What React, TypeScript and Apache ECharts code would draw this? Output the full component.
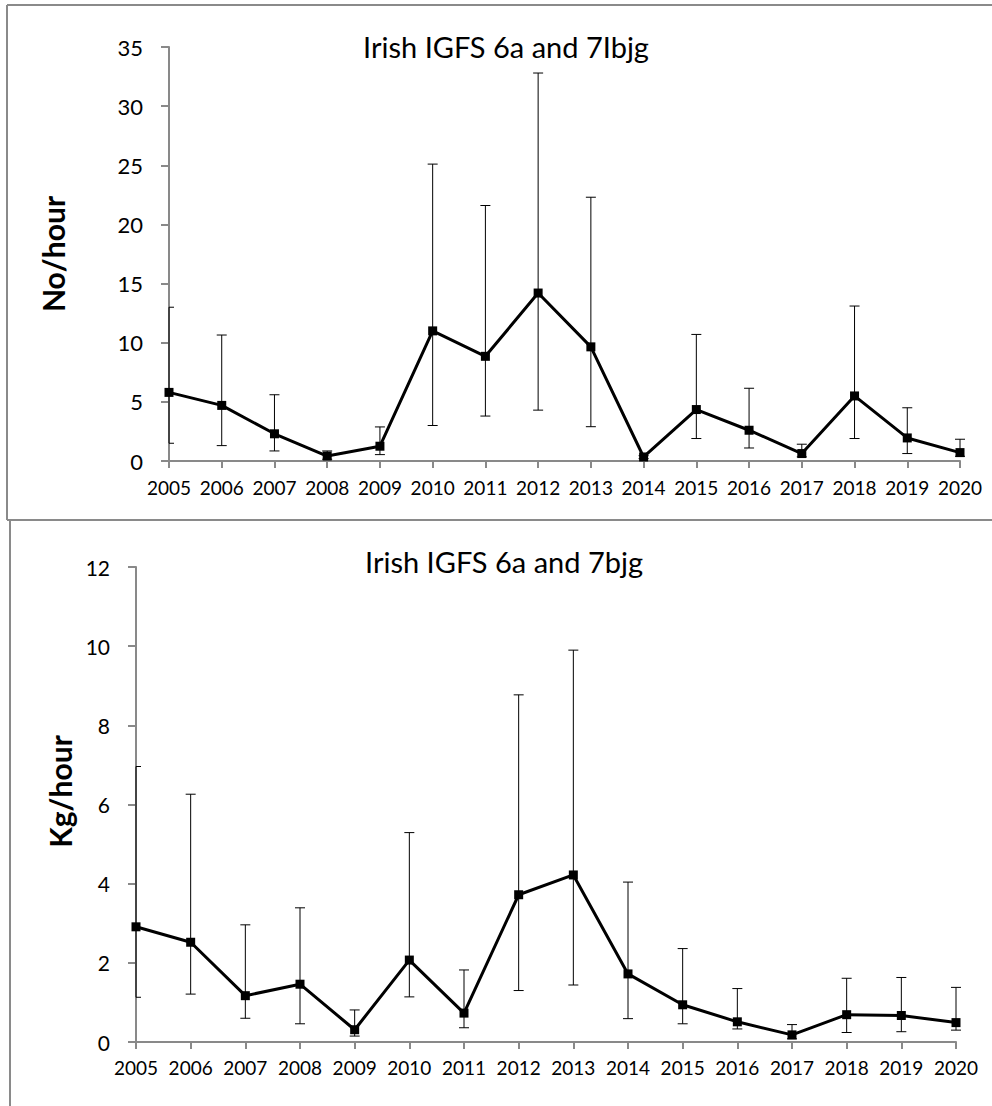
import React, { useEffect, useRef } from "react";
import * as echarts from "echarts";

const years = ["2005", "2006", "2007", "2008", "2009", "2010", "2011", "2012", "2013", "2014", "2015", "2016", "2017", "2018", "2019", "2020"];

const topTitle = "Irish IGFS 6a and 7Ibjg";
const topAxisName = "No/hour";
const topMean = [5.8, 4.7, 2.3, 0.42, 1.25, 11.0, 8.85, 14.2, 9.65, 0.34, 4.35, 2.6, 0.63, 5.5, 1.95, 0.71];
const topLow = [1.5, 1.3, 0.85, 0.15, 0.54, 3.0, 3.8, 4.3, 2.9, 0.2, 1.9, 1.1, 0.35, 1.9, 0.63, 0.4];
const topHigh = [13.0, 10.65, 5.6, 0.85, 2.88, 25.1, 21.6, 32.8, 22.3, 0.45, 10.7, 6.15, 1.42, 13.1, 4.5, 1.84];
const topTicks = { min: 0, max: 35, interval: 5 };

const botTitle = "Irish IGFS 6a and 7bjg";
const botAxisName = "Kg/hour";
const botMean = [2.91, 2.52, 1.17, 1.46, 0.31, 2.07, 0.73, 3.72, 4.22, 1.72, 0.94, 0.51, 0.18, 0.69, 0.67, 0.49];
const botLow = [1.13, 1.21, 0.6, 0.46, 0.15, 1.14, 0.36, 1.3, 1.44, 0.59, 0.46, 0.33, 0.08, 0.24, 0.26, 0.3];
const botHigh = [6.96, 6.26, 2.96, 3.39, 0.81, 5.29, 1.82, 8.77, 9.9, 4.04, 2.36, 1.35, 0.44, 1.61, 1.63, 1.38];
const botTicks = { min: 0, max: 12, interval: 2 };

const FONT = "Lato, 'Open Sans', sans-serif";
const AXIS_GREY = "#898989";

function renderErr(params: any, api: any) {
  const i = api.value(0);
  const lo = api.coord([i, api.value(1)]);
  const hi = api.coord([i, api.value(2)]);
  const cs = params.coordSys;
  const x = lo[0];
  const x1 = Math.max(x - 5, cs.x);
  const x2 = x + 5;
  const style = { stroke: "#000", lineWidth: 1 };
  return {
    type: "group",
    children: [
      { type: "line", shape: { x1: x, y1: lo[1], x2: x, y2: hi[1] }, style },
      { type: "line", shape: { x1, y1: hi[1], x2, y2: hi[1] }, style },
      { type: "line", shape: { x1, y1: lo[1], x2, y2: lo[1] }, style },
    ],
  };
}

function xAxisCfg(gridIndex: number, margin: number) {
  return {
    type: "category",
    gridIndex,
    data: years,
    boundaryGap: false,
    axisLine: { lineStyle: { color: AXIS_GREY, width: 2 } },
    axisTick: { show: true, length: 7, interval: 0, lineStyle: { color: AXIS_GREY, width: 2 } },
    axisLabel: { interval: 0, margin, color: "#000", fontSize: 19, fontFamily: FONT },
    splitLine: { show: false },
  };
}

function yAxisCfg(gridIndex: number, t: any, name: string, nameGap: number, fontSize: number, shift: number) {
  return {
    type: "value",
    gridIndex,
    min: t.min,
    max: t.max,
    interval: t.interval,
    name,
    nameLocation: "middle",
    nameRotate: 90,
    nameGap,
    nameTextStyle: {
      color: "#000",
      fontSize: 30,
      fontWeight: "bold",
      fontFamily: FONT,
      padding: [0, 0, 0, shift],
    },
    axisLine: { show: true, lineStyle: { color: AXIS_GREY, width: 2 } },
    axisTick: { show: true, length: 8, lineStyle: { color: AXIS_GREY, width: 2 } },
    axisLabel: { margin: 26, color: "#000", fontSize, fontFamily: FONT },
    splitLine: { show: false },
  };
}

function lineSeries(idx: number, data: number[]) {
  return {
    type: "line",
    xAxisIndex: idx,
    yAxisIndex: idx,
    data,
    symbol: "rect",
    symbolSize: 9,
    itemStyle: { color: "#000" },
    lineStyle: { color: "#000", width: 3 },
    z: 5,
  };
}

function errSeries(idx: number, low: number[], high: number[]) {
  return {
    type: "custom",
    xAxisIndex: idx,
    yAxisIndex: idx,
    renderItem: renderErr,
    encode: { x: 0, y: [1, 2] },
    data: years.map((_, i) => [i, low[i], high[i]]),
    clip: false,
    z: 3,
  };
}

export default function App() {
  const ref = useRef<HTMLDivElement>(null);
  useEffect(() => {
    if (!ref.current) return;
    const chart = echarts.init(ref.current, null, { renderer: "svg" });
    const frame = { stroke: "#8a8a8a", lineWidth: 2 };
    chart.setOption({
      animation: false,
      backgroundColor: "#fff",
      grid: [
        { left: 169, right: 32, top: 47, height: 414 },
        { left: 136, right: 36, top: 567, height: 475 },
      ],
      xAxis: [xAxisCfg(0, 17), xAxisCfg(1, 16)],
      yAxis: [
        yAxisCfg(0, topTicks, topAxisName, 101, 22, 0),
        yAxisCfg(1, botTicks, botAxisName, 61, 21, 26),
      ],
      series: [
        errSeries(0, topLow, topHigh),
        lineSeries(0, topMean),
        errSeries(1, botLow, botHigh),
        lineSeries(1, botMean),
      ],
      graphic: [
        { type: "line", shape: { x1: 7, y1: 5, x2: 992, y2: 5 }, style: frame },
        { type: "line", shape: { x1: 7, y1: 5, x2: 7, y2: 520 }, style: frame },
        { type: "line", shape: { x1: 7, y1: 520, x2: 992, y2: 520 }, style: frame },
        { type: "line", shape: { x1: 10, y1: 520, x2: 10, y2: 1106 }, style: frame },
        {
          type: "text",
          x: 506,
          y: 46,
          style: { text: topTitle, fill: "#000", font: `29px ${FONT}`, textAlign: "center", textVerticalAlign: "middle" },
        },
        {
          type: "text",
          x: 504,
          y: 561,
          style: { text: botTitle, fill: "#000", font: `29px ${FONT}`, textAlign: "center", textVerticalAlign: "middle" },
        },
      ],
    });
    return () => chart.dispose();
  }, []);
  return <div ref={ref} style={{ position: "absolute", left: 0, top: 0, width: 992, height: 1106 }} />;
}
